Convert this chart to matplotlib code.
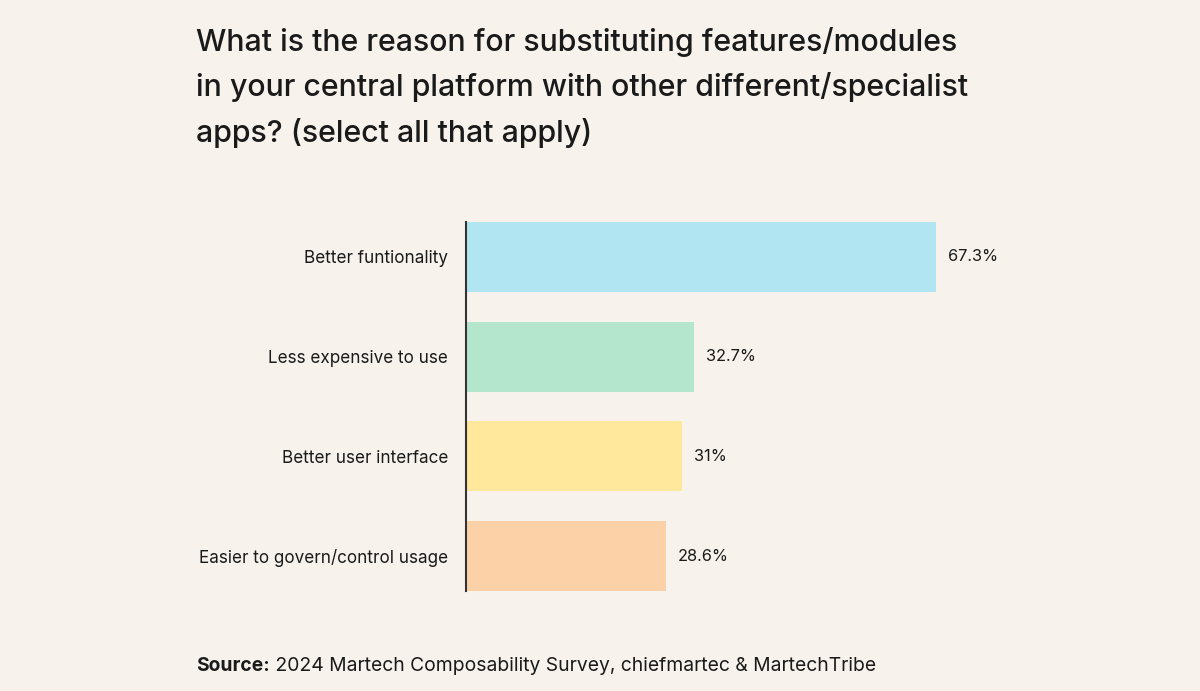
import matplotlib.pyplot as plt

plt.rcParams['font.family'] = ['Inter', 'DejaVu Sans']

# data
categories = ['Better funtionality', 'Less expensive to use',
              'Better user interface', 'Easier to govern/control usage']
values = [67.3, 32.7, 31.0, 28.6]
value_labels = ['67.3%', '32.7%', '31%', '28.6%']
colors = ['#B1E5F2', '#B3E6CC', '#FFE89C', '#FDD1A8']

title_lines = ['What is the reason for substituting features/modules',
               'in your central platform with other different/specialist',
               'apps? (select all that apply)']

bg = '#F7F3EC'
txt = '#1A1A1A'

fig = plt.figure(figsize=(12, 6.91), dpi=100, facecolor=bg)
ax = fig.add_axes([466 / 1200, 1 - 591 / 691, 698 / 1200, 369 / 691])
ax.set_facecolor(bg)

y = list(range(len(categories)))
ax.barh(y, values, height=0.7, color=colors)
ax.set_ylim(len(categories) - 0.65, -0.35)
ax.set_xlim(0, 100)

for yi, v, lab in zip(y, values, value_labels):
    ax.annotate(lab, (v, yi), xytext=(8.6, 0), textcoords='offset points',
                va='center', ha='left', fontsize=11.8, color=txt)

ax.set_yticks(y)
ax.set_yticklabels(categories, fontsize=12.3, color=txt)
ax.tick_params(axis='y', length=0, pad=13)
ax.set_xticks([])
for s in ['top', 'right', 'bottom']:
    ax.spines[s].set_visible(False)
ax.spines['left'].set_color('#333333')
ax.spines['left'].set_linewidth(1.5)

# title, one line at a time
for i, line in enumerate(title_lines):
    fig.text(196 / 1200, 1 - (51 + i * 45.5) / 691, line, fontsize=21.8,
             color=txt, va='baseline', ha='left', fontweight='medium')

# source line
src = fig.text(196 / 1200, 1 - 671 / 691, 'Source:', fontsize=13.9,
               fontweight='bold', color=txt, va='baseline', ha='left')
ax.annotate(' 2024 Martech Composability Survey, chiefmartec & MartechTribe',
            xy=(1, 0), xycoords=src, va='bottom', ha='left',
            fontsize=13.9, color=txt, annotation_clip=False)

fig.savefig('out.png', dpi=100, facecolor=bg)
